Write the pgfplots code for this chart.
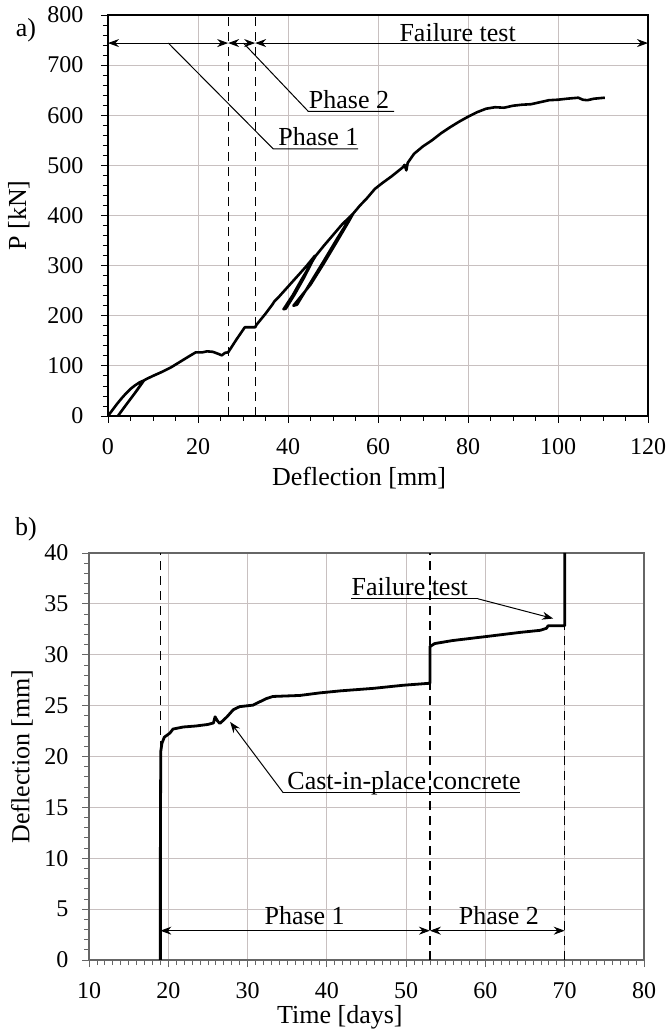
\documentclass[border=0pt]{standalone}
\usepackage{fontspec}
\setmainfont{Liberation Serif}
\usepackage{pgfplots}
\pgfplotsset{compat=1.18}
\usetikzlibrary{arrows.meta}

\definecolor{gridc}{RGB}{200,192,192}

\pgfplotsset{
  panel/.style={
    scale only axis,
    grid=major,
    major grid style={gridc, line width=0.9pt},
    tick align=outside,
    tick pos=left,
    major tick length=7pt,
    minor tick length=5pt,
    tick label style={font=\fontsize{24}{28}\selectfont},
    label style={font=\fontsize{26}{30}\selectfont},
    /pgf/number format/assume math mode=true,
  },
}
\tikzset{
  dbl/.style={{Stealth[length=11pt,width=8pt]}-{Stealth[length=11pt,width=8pt]}, line width=1pt},
  lead/.style={line width=1pt},
  dsh/.style={line width=1.3pt, dash pattern=on 9pt off 6pt},
  ann/.style={font=\fontsize{26}{30}\selectfont, inner sep=0pt},
}

\begin{document}
\begin{tikzpicture}
\useasboundingbox (0,0) rectangle (668pt,1032pt);

% a) load-deflection
\begin{axis}[panel,
  at={(108pt,616pt)}, anchor=south west,
  width=540pt, height=401pt,
  xmin=0, xmax=120, ymin=0, ymax=800,
  xtick={0,20,...,120}, ytick={0,100,...,800},
  minor x tick num=3, minor y tick num=4,
  axis line style={black, line width=1.3pt},
  every tick/.style={black, line width=0.8pt},
  xticklabel style={yshift=-12pt},
  yticklabel style={xshift=-14pt},
  xlabel={Deflection [mm]}, ylabel={P [kN]},
  xlabel style={at={(axis description cs:0.465,-0.155)}, anchor=center},
  ylabel style={at={(axis description cs:-0.165,0.5)}, anchor=center},
]
\draw[dsh] (26.7,0) -- (26.7,800);
\draw[dsh] (32.7,0) -- (32.7,800);
\addplot[black, line width=2.6pt, line join=round] coordinates {
(0,0) (1,12) (2,24) (3,35) (4,45) (5,54) (6,61) (7,67) (8,71)
(7.4,64) (6,46) (4,22) (2.2,0)
(3.5,16) (5,34) (6.5,52) (8,71) (8.6,74)
(10,80) (12,88) (14,97) (16,108) (18,119) (19.5,127) (21,127) (22,129)
(23.3,128) (24.5,124) (25.3,121) (26.0,126) (26.7,127) (28.5,152) (30.4,177)
(32.7,177) (33,182) (35,204) (36.5,222) (37,229) (38,238) (40,258) (42,278)
(44,298) (46,320)
(45.2,305) (43,272) (41,240) (39,213)
(39.5,214) (41.5,243) (43.5,275) (45.5,310) (46.2,320)
(48,340) (50,361) (52,382) (54.5,404)
(53.5,388) (51,350) (48,305) (45,262) (41.2,220)
(42,222) (45,266) (48,310) (51,355) (53.8,395) (54.5,404)
(56,420) (57.5,434) (59.3,453) (61,465) (63,478) (65.5,496) (65.9,501)
(66.3,490) (66.6,505) (68,523) (70,538) (72,550) (74,564) (76,576) (78,587)
(80,597) (82,606) (84,613) (86,616) (88,615) (90,619) (92,621) (94,622)
(96,626) (98,630) (100,631) (102,633) (104.5,635) (105.5,631) (106.5,630)
(108,633) (110.4,635)
};
\draw[dbl] (0,744) -- (26.7,744);
\draw[dbl] (26.7,744) -- (32.7,744);
\draw[dbl] (32.7,744) -- (120,744);
\node[ann, anchor=base] at (77.7,748) {Failure test};
\draw[lead] (13.4,744) -- (36.7,533) -- (55.6,533);
\node[ann, anchor=base west] at (37.8,539) {Phase 1};
\draw[lead] (30.1,744) -- (44.5,607.8) -- (63.6,607.8);
\node[ann, anchor=base west] at (44.6,613) {Phase 2};
\end{axis}

% b) deflection-time
\begin{axis}[panel,
  at={(89pt,72pt)}, anchor=south west,
  width=555pt, height=407pt,
  xmin=10, xmax=80, ymin=0, ymax=40,
  xtick={10,20,...,80}, ytick={0,5,...,40},
  minor x tick num=9, minor y tick num=4,
  axis line style={black!60, line width=1.3pt},
  every tick/.style={black!60, line width=0.8pt},
  xticklabel style={yshift=-12pt},
  yticklabel style={xshift=-10pt},
  xlabel={Time [days]}, ylabel={Deflection [mm]},
  xlabel style={at={(axis description cs:0.452,-0.14)}, anchor=center},
  ylabel style={at={(axis description cs:-0.121,0.5)}, anchor=center},
]
\draw[dsh] (19,0) -- (19,40);
\draw[dsh] (53,0) -- (53,40);
\draw[dsh] (70,0) -- (70,40);
\addplot[black, line width=2.8pt, line join=round] coordinates {
(19,0) (19,10) (19.05,20.5) (19.2,21.3) (19.5,21.9) (20.2,22.3) (20.6,22.7)
(21.9,22.9) (23.5,23.0) (25.0,23.15) (25.7,23.3) (25.9,23.9) (26.2,23.5)
(26.5,23.25) (27.0,23.6) (27.4,23.9) (28.2,24.6) (29.0,24.9) (30.7,25.05)
(31.6,25.4) (32.4,25.7) (33.2,25.9) (36.6,26.0) (39.1,26.25) (41.7,26.45)
(45.9,26.7) (49.6,27.0) (53,27.2) (53,30.8) (53.6,31.1) (55.9,31.4)
(60.2,31.8) (64.4,32.2) (66.9,32.4) (67.7,32.6) (67.9,32.85) (70,32.85) (70,40)
};
\draw[dbl] (19,2.88) -- (53,2.88);
\draw[dbl] (53,2.88) -- (70,2.88);
\node[ann, anchor=base] at (37.2,3.44) {Phase 1};
\node[ann, anchor=base] at (61.7,3.44) {Phase 2};
\draw[lead] (43.1,35.5) -- (59.05,35.5);
\draw[lead, -{Stealth[length=11pt,width=8pt]}] (59.05,35.5) -- (68.55,33.56);
\node[ann, anchor=base west] at (43.1,35.85) {Failure test};
\draw[lead] (64.35,16.43) -- (34.5,16.43);
\draw[lead, -{Stealth[length=11pt,width=8pt]}] (34.5,16.43) -- (27.8,23.4);
\node[ann, anchor=base west] at (35.0,16.75) {Cast-in-place concrete};
\end{axis}

\node[font=\fontsize{26}{30}\selectfont] at (26pt,1002pt) {a)};
\node[font=\fontsize{26}{30}\selectfont] at (26pt,503pt) {b)};
\end{tikzpicture}
\end{document}
